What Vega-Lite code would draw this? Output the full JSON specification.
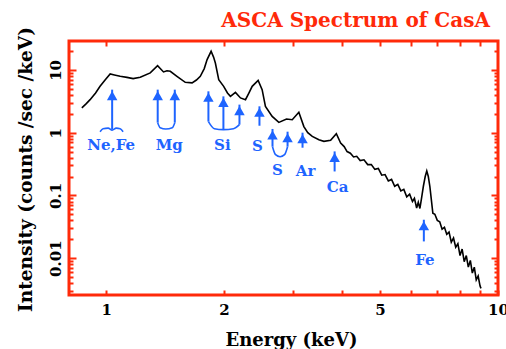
{
  "$schema": "https://vega.github.io/schema/vega-lite/v6.json",
  "width": 429,
  "height": 254,
  "autosize": {"type": "none"},
  "padding": {"left": 69, "top": 41, "right": 8, "bottom": 54},
  "background": "white",
  "config": {
    "view": {"stroke": "#ff2a0a", "strokeWidth": 3, "fill": "white"},
    "font": "DejaVu Serif"
  },
  "title": {
    "text": "ASCA Spectrum of CasA",
    "anchor": "end",
    "frame": "group",
    "font": "DejaVu Serif",
    "fontWeight": "bold",
    "fontSize": 20,
    "color": "#ff2a0a",
    "dx": -8,
    "baseline": "alphabetic",
    "offset": -20
  },
  "datasets": {
    "spec": [
      {"E":0.867,"I":2.48},{"E":0.89,"I":2.9},{"E":0.91,"I":3.36},{"E":0.94,"I":4.3},{"E":0.965,"I":5.48},
      {"E":0.995,"I":7.0},{"E":1.024,"I":8.63},{"E":1.05,"I":8.3},{"E":1.086,"I":7.91},{"E":1.13,"I":7.6},
      {"E":1.172,"I":7.26},{"E":1.222,"I":7.62},{"E":1.296,"I":8.96},{"E":1.353,"I":11.7},{"E":1.401,"I":9.29},
      {"E":1.43,"I":9.7},{"E":1.458,"I":9.5},{"E":1.516,"I":7.91},{"E":1.592,"I":6.34},{"E":1.657,"I":6.21},
      {"E":1.70,"I":6.9},{"E":1.739,"I":7.9},{"E":1.78,"I":10.5},{"E":1.81,"I":14.6},{"E":1.853,"I":19.8},
      {"E":1.88,"I":16},{"E":1.9,"I":12.9},{"E":1.938,"I":7.0},{"E":1.995,"I":5.48},{"E":2.04,"I":4.3},
      {"E":2.076,"I":3.79},{"E":2.138,"I":4.39},{"E":2.202,"I":3.58},{"E":2.268,"I":3.36},{"E":2.31,"I":4.2},
      {"E":2.359,"I":5.48},{"E":2.443,"I":6.83},{"E":2.501,"I":4.85},{"E":2.55,"I":2.63},{"E":2.653,"I":1.82},
      {"E":2.759,"I":1.46},{"E":2.886,"I":1.65},{"E":2.985,"I":1.61},{"E":3.103,"I":2.11},{"E":3.196,"I":1.25},
      {"E":3.27,"I":1.0},{"E":3.358,"I":0.873},{"E":3.491,"I":0.77},{"E":3.595,"I":0.727},{"E":3.74,"I":0.754},
      {"E":3.868,"I":0.964},{"E":3.967,"I":0.685},{"E":4.05,"I":0.60},{"E":4.12,"I":0.50},{"E":4.2,"I":0.47},
      {"E":4.28,"I":0.41},{"E":4.36,"I":0.42},{"E":4.45,"I":0.36},{"E":4.55,"I":0.37},{"E":4.65,"I":0.31},
      {"E":4.75,"I":0.31},{"E":4.85,"I":0.26},{"E":4.95,"I":0.27},{"E":5.05,"I":0.21},{"E":5.15,"I":0.215},
      {"E":5.25,"I":0.17},{"E":5.35,"I":0.18},{"E":5.45,"I":0.14},{"E":5.55,"I":0.15},{"E":5.65,"I":0.118},
      {"E":5.75,"I":0.125},{"E":5.85,"I":0.095},{"E":5.95,"I":0.105},{"E":6.05,"I":0.08},{"E":6.12,"I":0.09},
      {"E":6.2,"I":0.063},{"E":6.26,"I":0.078},{"E":6.32,"I":0.062},{"E":6.38,"I":0.09},{"E":6.45,"I":0.14},
      {"E":6.52,"I":0.2},{"E":6.58,"I":0.245},{"E":6.64,"I":0.2},{"E":6.7,"I":0.14},{"E":6.76,"I":0.085},
      {"E":6.82,"I":0.052},{"E":6.9,"I":0.05},{"E":7.0,"I":0.04},{"E":7.1,"I":0.038},{"E":7.2,"I":0.029},
      {"E":7.3,"I":0.031},{"E":7.4,"I":0.024},{"E":7.5,"I":0.026},{"E":7.6,"I":0.018},{"E":7.7,"I":0.021},
      {"E":7.8,"I":0.015},{"E":7.9,"I":0.017},{"E":8.0,"I":0.011},{"E":8.1,"I":0.014},{"E":8.2,"I":0.0088},
      {"E":8.3,"I":0.011},{"E":8.4,"I":0.0072},{"E":8.5,"I":0.0092},{"E":8.6,"I":0.0058},{"E":8.7,"I":0.0072},
      {"E":8.8,"I":0.0045},{"E":8.9,"I":0.0052},{"E":9.0,"I":0.0036},{"E":9.05,"I":0.0033}
    ],
    "arrows": [
      {"E":1.036,"top":4.85,"bot":1.117},
      {"E":1.354,"top":4.85,"bot":1.443},
      {"E":1.497,"top":4.85,"bot":1.443},
      {"E":1.824,"top":4.56,"bot":1.50},
      {"E":1.992,"top":3.79,"bot":1.117},
      {"E":2.189,"top":2.80,"bot":1.342},
      {"E":2.462,"top":2.63,"bot":1.29},
      {"E":2.658,"top":1.146,"bot":0.598},
      {"E":2.904,"top":1.037,"bot":0.598},
      {"E":3.171,"top":1.0,"bot":0.576},
      {"E":3.829,"top":0.503,"bot":0.241},
      {"E":6.468,"top":0.041,"bot":0.0185}
    ],
    "brackets": [
      {"g":"NeFe","E":0.965,"I":1.037},{"g":"NeFe","E":0.982,"I":1.158},{"g":"NeFe","E":1.012,"I":1.18},
      {"g":"NeFe","E":1.036,"I":1.096},{"g":"NeFe","E":1.061,"I":1.18},{"g":"NeFe","E":1.086,"I":1.158},
      {"g":"NeFe","E":1.105,"I":1.037},
      {"g":"Mg","E":1.354,"I":1.443},{"g":"Mg","E":1.374,"I":1.2},{"g":"Mg","E":1.42,"I":1.146},
      {"g":"Mg","E":1.475,"I":1.2},{"g":"Mg","E":1.497,"I":1.443},
      {"g":"Si","E":1.824,"I":1.50},{"g":"Si","E":1.889,"I":1.158},{"g":"Si","E":1.992,"I":1.117},
      {"g":"Si","E":2.113,"I":1.158},{"g":"Si","E":2.189,"I":1.342},
      {"g":"S","E":2.658,"I":0.598},{"g":"S","E":2.706,"I":0.446},{"g":"S","E":2.779,"I":0.414},
      {"g":"S","E":2.853,"I":0.446},{"g":"S","E":2.904,"I":0.598}
    ],
    "labels": [
      {"E":1.030,"I":0.644,"t":"Ne,Fe"},
      {"E":1.449,"I":0.644,"t":"Mg"},
      {"E":1.980,"I":0.644,"t":"Si"},
      {"E":2.433,"I":0.621,"t":"S"},
      {"E":2.737,"I":0.257,"t":"S"},
      {"E":3.228,"I":0.248,"t":"Ar"},
      {"E":3.898,"I":0.138,"t":"Ca"},
      {"E":6.507,"I":0.00942,"t":"Fe"}
    ]
  },
  "resolve": {"axis": {"x": "independent", "y": "independent"}},
  "layer": [
    {
      "data": {"name": "spec"},
      "mark": {"type": "line", "color": "black", "strokeWidth": 1.6, "clip": true},
      "encoding": {
        "x": {
          "field": "E", "type": "quantitative",
          "scale": {"type": "log", "domain": [0.804, 10], "nice": false, "zero": false},
          "axis": {
            "orient": "bottom",
            "values": [1,2,3,4,5,6,7,8,9,10],
            "format": "~g",
            "labelExpr": "indexof([1,2,5,10], datum.value) >= 0 ? datum.label : ''",
            "domain": false, "grid": false,
            "tickColor": "#ff2a0a", "tickWidth": 2, "tickSize": -5,
            "labelPadding": 12,
            "labelFont": "DejaVu Serif", "labelFontWeight": "bold", "labelFontSize": 15,
            "labelColor": "black", "labelFlush": false, "labelOverlap": false, "labelBound": false,
            "labelBaseline": "top",
            "title": "Energy (keV)",
            "titleFont": "DejaVu Serif", "titleFontWeight": "bold", "titleFontSize": 18,
            "titleColor": "black",
            "titleX": 222, "titleY": 36, "titleAlign": "center", "titleBaseline": "top"
          }
        },
        "y": {
          "field": "I", "type": "quantitative",
          "scale": {"type": "log", "domain": [0.00259, 28.9], "nice": false, "zero": false},
          "axis": {
            "orient": "left",
            "values": [0.003,0.004,0.005,0.006,0.007,0.008,0.009,0.01,0.02,0.03,0.04,0.05,0.06,0.07,0.08,0.09,0.1,0.2,0.3,0.4,0.5,0.6,0.7,0.8,0.9,1,2,3,4,5,6,7,8,9,10,20],
            "format": "~g",
            "labelExpr": "abs(log(datum.value)/LN10 - round(log(datum.value)/LN10)) < 0.001 ? datum.label : ''",
            "domain": false, "grid": false,
            "tickColor": "#ff2a0a", "tickWidth": 2,
            "tickSize": {"condition": {"test": "abs(log(datum.value)/LN10 - round(log(datum.value)/LN10)) < 0.001", "value": -7}, "value": -4},
            "labelAngle": -90, "labelAlign": "center", "labelBaseline": "middle",
            "labelPadding": 21,
            "labelFont": "DejaVu Serif", "labelFontWeight": "bold", "labelFontSize": 15,
            "labelColor": "black", "labelFlush": false, "labelOverlap": false, "labelBound": false,
            "title": "Intensity (counts /sec /keV)",
            "titleFont": "DejaVu Serif", "titleFontWeight": "bold", "titleFontSize": 18.5,
            "titleColor": "black", "titleAngle": -90,
            "titleX": -44, "titleY": 128, "titleAlign": "center", "titleBaseline": "middle"
          }
        }
      }
    },
    {
      "data": {"name": "spec"},
      "mark": {"type": "point", "opacity": 0},
      "encoding": {
        "x": {
          "field": "E", "type": "quantitative",
          "scale": {"type": "log", "domain": [0.804, 10], "nice": false, "zero": false},
          "axis": {
            "orient": "top", "values": [1,2,3,4,5,6,7,8,9], "labels": false, "title": null,
            "domain": false, "grid": false,
            "tickColor": "#ff2a0a", "tickWidth": 2, "tickSize": -5
          }
        },
        "y": {
          "field": "I", "type": "quantitative",
          "scale": {"type": "log", "domain": [0.00259, 28.9], "nice": false, "zero": false},
          "axis": {
            "orient": "right",
            "values": [0.003,0.004,0.005,0.006,0.007,0.008,0.009,0.01,0.02,0.03,0.04,0.05,0.06,0.07,0.08,0.09,0.1,0.2,0.3,0.4,0.5,0.6,0.7,0.8,0.9,1,2,3,4,5,6,7,8,9,10,20],
            "labels": false, "title": null, "domain": false, "grid": false,
            "tickColor": "#ff2a0a", "tickWidth": 2,
            "tickSize": {"condition": {"test": "abs(log(datum.value)/LN10 - round(log(datum.value)/LN10)) < 0.001", "value": -7}, "value": -4}
          }
        }
      }
    },
    {
      "data": {"name": "arrows"},
      "mark": {"type": "rule", "color": "#1e64ff", "strokeWidth": 2},
      "encoding": {
        "x": {"field": "E", "type": "quantitative", "axis": null},
        "y": {"field": "top", "type": "quantitative", "axis": null},
        "y2": {"field": "bot"}
      }
    },
    {
      "data": {"name": "arrows"},
      "mark": {"type": "point", "shape": "triangle-up", "filled": true, "color": "#1e64ff", "opacity": 1, "size": 110, "yOffset": 6},
      "encoding": {
        "x": {"field": "E", "type": "quantitative", "axis": null},
        "y": {"field": "top", "type": "quantitative", "axis": null}
      }
    },
    {
      "data": {"name": "brackets"},
      "mark": {"type": "line", "color": "#1e64ff", "strokeWidth": 1.6, "interpolate": "monotone"},
      "encoding": {
        "x": {"field": "E", "type": "quantitative", "axis": null},
        "y": {"field": "I", "type": "quantitative", "axis": null},
        "detail": {"field": "g"}
      }
    },
    {
      "data": {"name": "labels"},
      "mark": {"type": "text", "color": "#1e64ff", "font": "DejaVu Serif", "fontWeight": "bold", "fontSize": 15, "align": "center", "baseline": "middle"},
      "encoding": {
        "x": {"field": "E", "type": "quantitative", "axis": null},
        "y": {"field": "I", "type": "quantitative", "axis": null},
        "text": {"field": "t"}
      }
    }
  ]
}
